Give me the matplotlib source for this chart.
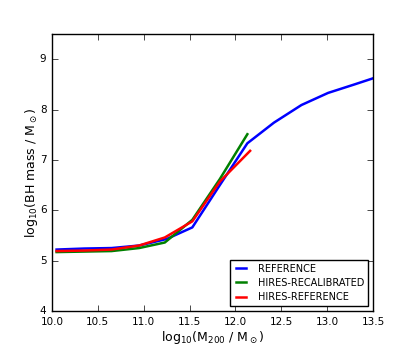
import matplotlib
matplotlib.use("Agg")
import matplotlib.pyplot as plt

plt.style.use('classic')
plt.rcParams['mathtext.fontset'] = 'dejavusans'
plt.rcParams['font.family'] = ['DejaVu Sans']

ref_x = [10.05, 10.35, 10.65, 10.95, 11.25, 11.53, 11.83, 12.13, 12.42, 12.72, 13.01, 13.3, 13.6]
ref_y = [5.22, 5.24, 5.25, 5.30, 5.43, 5.66, 6.50, 7.33, 7.74, 8.09, 8.33, 8.50, 8.68]

recal_x = [10.05, 10.35, 10.65, 10.95, 11.23, 11.53, 11.83, 12.13]
recal_y = [5.17, 5.18, 5.19, 5.25, 5.36, 5.81, 6.62, 7.51]

hires_x = [10.05, 10.35, 10.65, 10.95, 11.23, 11.53, 11.83, 12.16]
hires_y = [5.19, 5.20, 5.22, 5.30, 5.46, 5.78, 6.57, 7.18]

labels = ['REFERENCE', 'HIRES-RECALIBRATED', 'HIRES-REFERENCE']
colors = ['b', 'g', 'r']

fig = plt.figure(figsize=(4.15, 3.46), dpi=100, facecolor='white')
ax = fig.add_axes([52/415, 1 - 311/346, (373-52)/415, (311-34)/346])

for x, y, lab, c in zip([ref_x, recal_x, hires_x], [ref_y, recal_y, hires_y], labels, colors):
    ax.plot(x, y, color=c, lw=1.8, label=lab)

ax.set_xlim(10.0, 13.5)
ax.set_ylim(4, 9.5)
ax.set_xticks([10.0, 10.5, 11.0, 11.5, 12.0, 12.5, 13.0, 13.5])
ax.set_xticklabels(['10.0', '10.5', '11.0', '11.5', '12.0', '12.5', '13.0', '13.5'])
ax.set_yticks([4, 5, 6, 7, 8, 9])
ax.tick_params(labelsize=7.5)
ax.set_xlabel(r'log$_{10}$(M$_{200}$ / M$_\odot$)', fontsize=9, labelpad=2)
ax.set_ylabel(r'log$_{10}$(BH mass / M$_\odot$)', fontsize=9, labelpad=0)
leg = ax.legend(loc='lower right', fontsize=7, handlelength=1.6, handletextpad=0.9,
                borderaxespad=0.5, labelspacing=0.45)
leg.get_frame().set_linewidth(1.0)

fig.savefig('out.png', dpi=100, facecolor='white')
